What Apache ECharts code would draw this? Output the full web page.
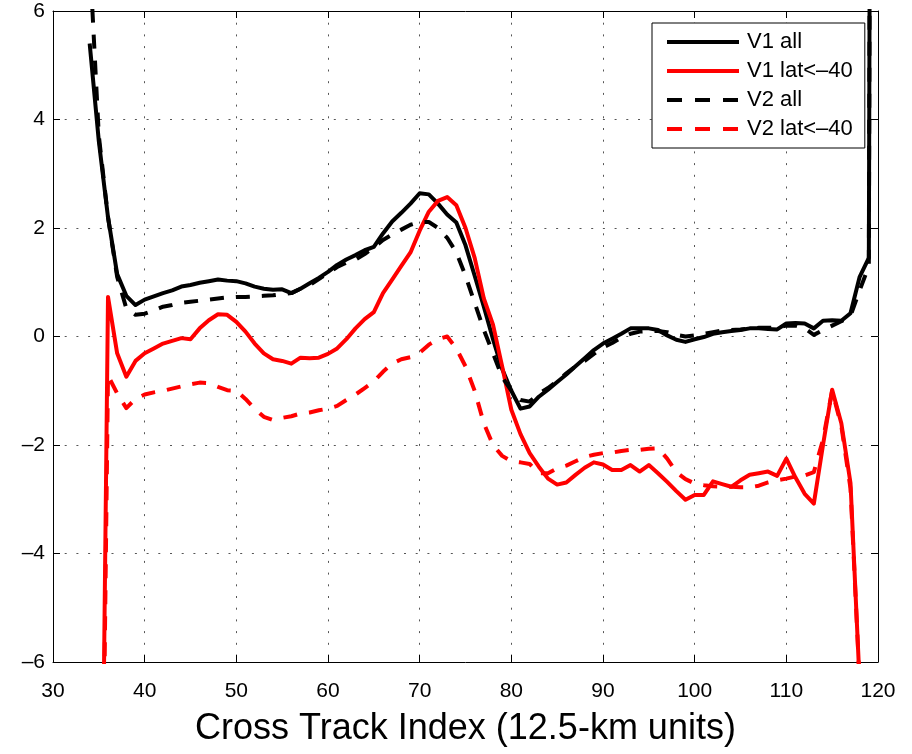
<!DOCTYPE html>
<html>
<head>
<meta charset="utf-8">
<script src="https://cdn.jsdelivr.net/npm/echarts/dist/echarts.min.js"></script>
<style>
  html, body { margin: 0; padding: 0; background: #ffffff; }
  #chart { width: 912px; height: 754px; }
</style>
</head>
<body>
<div id="chart"></div>
<script>
// Cross-track index axis
const xMin = 30, xMax = 120, xStep = 10;
const yMin = -6, yMax = 6, yStep = 2;

// First cross-track index of each series
const startAll = 34;
const startLat = 35;

// V1, all latitudes (index 34..120)
const v1All = [
  5.4, 3.6, 2.2, 1.15, 0.75, 0.58, 0.68, 0.74, 0.80, 0.85,
  0.92, 0.95, 0.99, 1.02, 1.05, 1.03, 1.02, 0.98, 0.92, 0.88,
  0.86, 0.87, 0.80, 0.88, 0.98, 1.08, 1.19, 1.32, 1.42, 1.50,
  1.59, 1.65, 1.90, 2.12, 2.28, 2.45, 2.64, 2.62, 2.45, 2.25,
  2.10, 1.68, 1.12, 0.55, -0.05, -0.60, -1.00, -1.33, -1.29, -1.11,
  -0.98, -0.84, -0.70, -0.55, -0.40, -0.25, -0.13, -0.04, 0.05, 0.15,
  0.15, 0.15, 0.12, 0.02, -0.06, -0.10, -0.05, -0.01, 0.05, 0.08,
  0.10, 0.12, 0.15, 0.15, 0.14, 0.13, 0.24, 0.25, 0.24, 0.15,
  0.29, 0.30, 0.29, 0.43, 1.10, 1.45, 60
];

// V1, latitudes south of -40 (index 35..118)
const v1Lat = [
  -15, 0.73, -0.31, -0.74, -0.45, -0.31, -0.22, -0.13, -0.08, -0.03,
  -0.05, 0.15, 0.30, 0.41, 0.40, 0.27, 0.09, -0.13, -0.31, -0.42,
  -0.45, -0.50, -0.39, -0.40, -0.39, -0.32, -0.22, -0.05, 0.15, 0.32,
  0.45, 0.80, 1.05, 1.30, 1.55, 1.95, 2.30, 2.50, 2.57, 2.42,
  2.00, 1.45, 0.70, 0.22, -0.55, -1.35, -1.80, -2.15, -2.40, -2.62,
  -2.73, -2.69, -2.55, -2.42, -2.32, -2.36, -2.46, -2.46, -2.37, -2.49,
  -2.37, -2.52, -2.68, -2.85, -3.01, -2.92, -2.92, -2.67, -2.72, -2.77,
  -2.65, -2.55, -2.52, -2.49, -2.57, -2.25, -2.60, -2.90, -3.08, -2.00,
  -0.98, -1.60, -2.70, -6.4
];

// V2, all latitudes (index 34..120)
const v2All = [
  7.0, 3.7, 2.2, 1.1, 0.52, 0.40, 0.42, 0.48, 0.55, 0.58,
  0.62, 0.64, 0.66, 0.68, 0.70, 0.72, 0.73, 0.73, 0.74, 0.75,
  0.76, 0.78, 0.80, 0.88, 0.95, 1.06, 1.17, 1.28, 1.36, 1.42,
  1.52, 1.64, 1.78, 1.88, 1.97, 2.06, 2.11, 2.11, 2.00, 1.82,
  1.55, 1.12, 0.62, 0.12, -0.31, -0.75, -1.00, -1.17, -1.20, -1.05,
  -0.95, -0.82, -0.68, -0.55, -0.45, -0.32, -0.20, -0.12, -0.02, 0.05,
  0.09, 0.10, 0.10, 0.08, 0.03, 0.00, 0.02, 0.05, 0.08, 0.11,
  0.12, 0.13, 0.15, 0.16, 0.16, 0.17, 0.20, 0.20, 0.15, 0.03,
  0.12, 0.20, 0.28, 0.38, 0.85, 1.30, 60
];

// V2, latitudes south of -40 (index 35..118)
const v2Lat = [
  -15, -0.72, -1.05, -1.32, -1.15, -1.07, -1.03, -1.00, -0.96, -0.92,
  -0.88, -0.85, -0.86, -0.93, -0.99, -1.00, -1.15, -1.33, -1.48, -1.54,
  -1.50, -1.47, -1.42, -1.40, -1.36, -1.33, -1.28, -1.17, -1.07, -0.95,
  -0.83, -0.65, -0.50, -0.42, -0.38, -0.30, -0.15, -0.05, 0.00, -0.22,
  -0.55, -1.00, -1.60, -2.00, -2.20, -2.30, -2.32, -2.35, -2.52, -2.52,
  -2.43, -2.38, -2.30, -2.22, -2.18, -2.15, -2.14, -2.11, -2.09, -2.09,
  -2.07, -2.06, -2.25, -2.50, -2.63, -2.71, -2.74, -2.76, -2.77, -2.77,
  -2.78, -2.78, -2.75, -2.69, -2.65, -2.62, -2.58, -2.56, -2.50, -1.90,
  -1.00, -1.65, -2.80, -6.4
];

const seriesNames = ['V1 all', 'V1 lat<\u201340', 'V2 all', 'V2 lat<\u201340'];

function pairs(start, values) {
  return values.map((v, i) => [start + i, v]);
}

const FONT = '"Liberation Sans", Arial, Helvetica, sans-serif';
const gridLine = { show: true, lineStyle: { color: '#555', width: 1, type: [2, 9.7] } };
const frameLine = { show: true, onZero: false, lineStyle: { color: '#000', width: 1 } };
const tickIn = { show: true, inside: true, length: 7, lineStyle: { color: '#000', width: 1 } };
const dash = [14, 12];
const legendDash = [15, 13];
const LINE_W = 4;

function lineSeries(name, data, color, type) {
  return {
    name: name,
    type: 'line',
    data: data,
    xAxisIndex: 0,
    yAxisIndex: 0,
    showSymbol: false,
    symbol: 'none',
    clip: true,
    lineStyle: { color: color, width: LINE_W, type: type, cap: 'butt', join: 'round' },
    itemStyle: { color: color },
    emphasis: { disabled: true }
  };
}

const chart = echarts.init(document.getElementById('chart'), null, { renderer: 'canvas' });

chart.setOption({
  animation: false,
  backgroundColor: '#ffffff',
  grid: { left: 53, right: 34, top: 11, bottom: 92, containLabel: false },
  legend: {
    orient: 'vertical',
    left: 652,
    top: 23,
    data: [
      { name: seriesNames[0] },
      { name: seriesNames[1] },
      { name: seriesNames[2], lineStyle: { type: legendDash } },
      { name: seriesNames[3], lineStyle: { type: legendDash } }
    ],
    backgroundColor: '#ffffff',
    borderColor: '#000',
    borderWidth: 1,
    borderRadius: 0,
    padding: [8, 12, 8, 13],
    itemWidth: 72,
    itemHeight: 14,
    itemGap: 7,
    selectedMode: false,
    itemStyle: { opacity: 0 },
    lineStyle: { width: LINE_W },
    textStyle: { fontFamily: FONT, fontSize: 22, color: '#000', padding: [0, 0, 0, 3] }
  },
  xAxis: [
    {
      type: 'value', position: 'bottom', min: xMin, max: xMax, interval: xStep,
      axisLine: frameLine, axisTick: tickIn, splitLine: gridLine,
      axisLabel: { color: '#000', fontFamily: FONT, fontSize: 21, margin: 19 },
      name: 'Cross Track Index (12.5-km units)',
      nameLocation: 'middle',
      nameGap: 49,
      nameTextStyle: { color: '#000', fontFamily: FONT, fontSize: 36 }
    },
    {
      type: 'value', position: 'top', min: xMin, max: xMax, interval: xStep,
      axisLine: frameLine, axisTick: tickIn, splitLine: { show: false },
      axisLabel: { show: false }
    }
  ],
  yAxis: [
    {
      type: 'value', position: 'left', min: yMin, max: yMax, interval: yStep,
      axisLine: frameLine, axisTick: tickIn, splitLine: gridLine,
      axisLabel: {
        color: '#000', fontFamily: FONT, fontSize: 21, margin: 8,
        formatter: v => (v < 0 ? '\u2013' + Math.abs(v) : String(v))
      }
    },
    {
      type: 'value', position: 'right', min: yMin, max: yMax, interval: yStep,
      axisLine: frameLine, axisTick: tickIn, splitLine: { show: false },
      axisLabel: { show: false }
    }
  ],
  series: [
    lineSeries(seriesNames[0], pairs(startAll, v1All), '#000000', 'solid'),
    lineSeries(seriesNames[1], pairs(startLat, v1Lat), '#ff0000', 'solid'),
    lineSeries(seriesNames[2], pairs(startAll, v2All), '#000000', dash),
    lineSeries(seriesNames[3], pairs(startLat, v2Lat), '#ff0000', dash)
  ]
});
</script>
</body>
</html>
